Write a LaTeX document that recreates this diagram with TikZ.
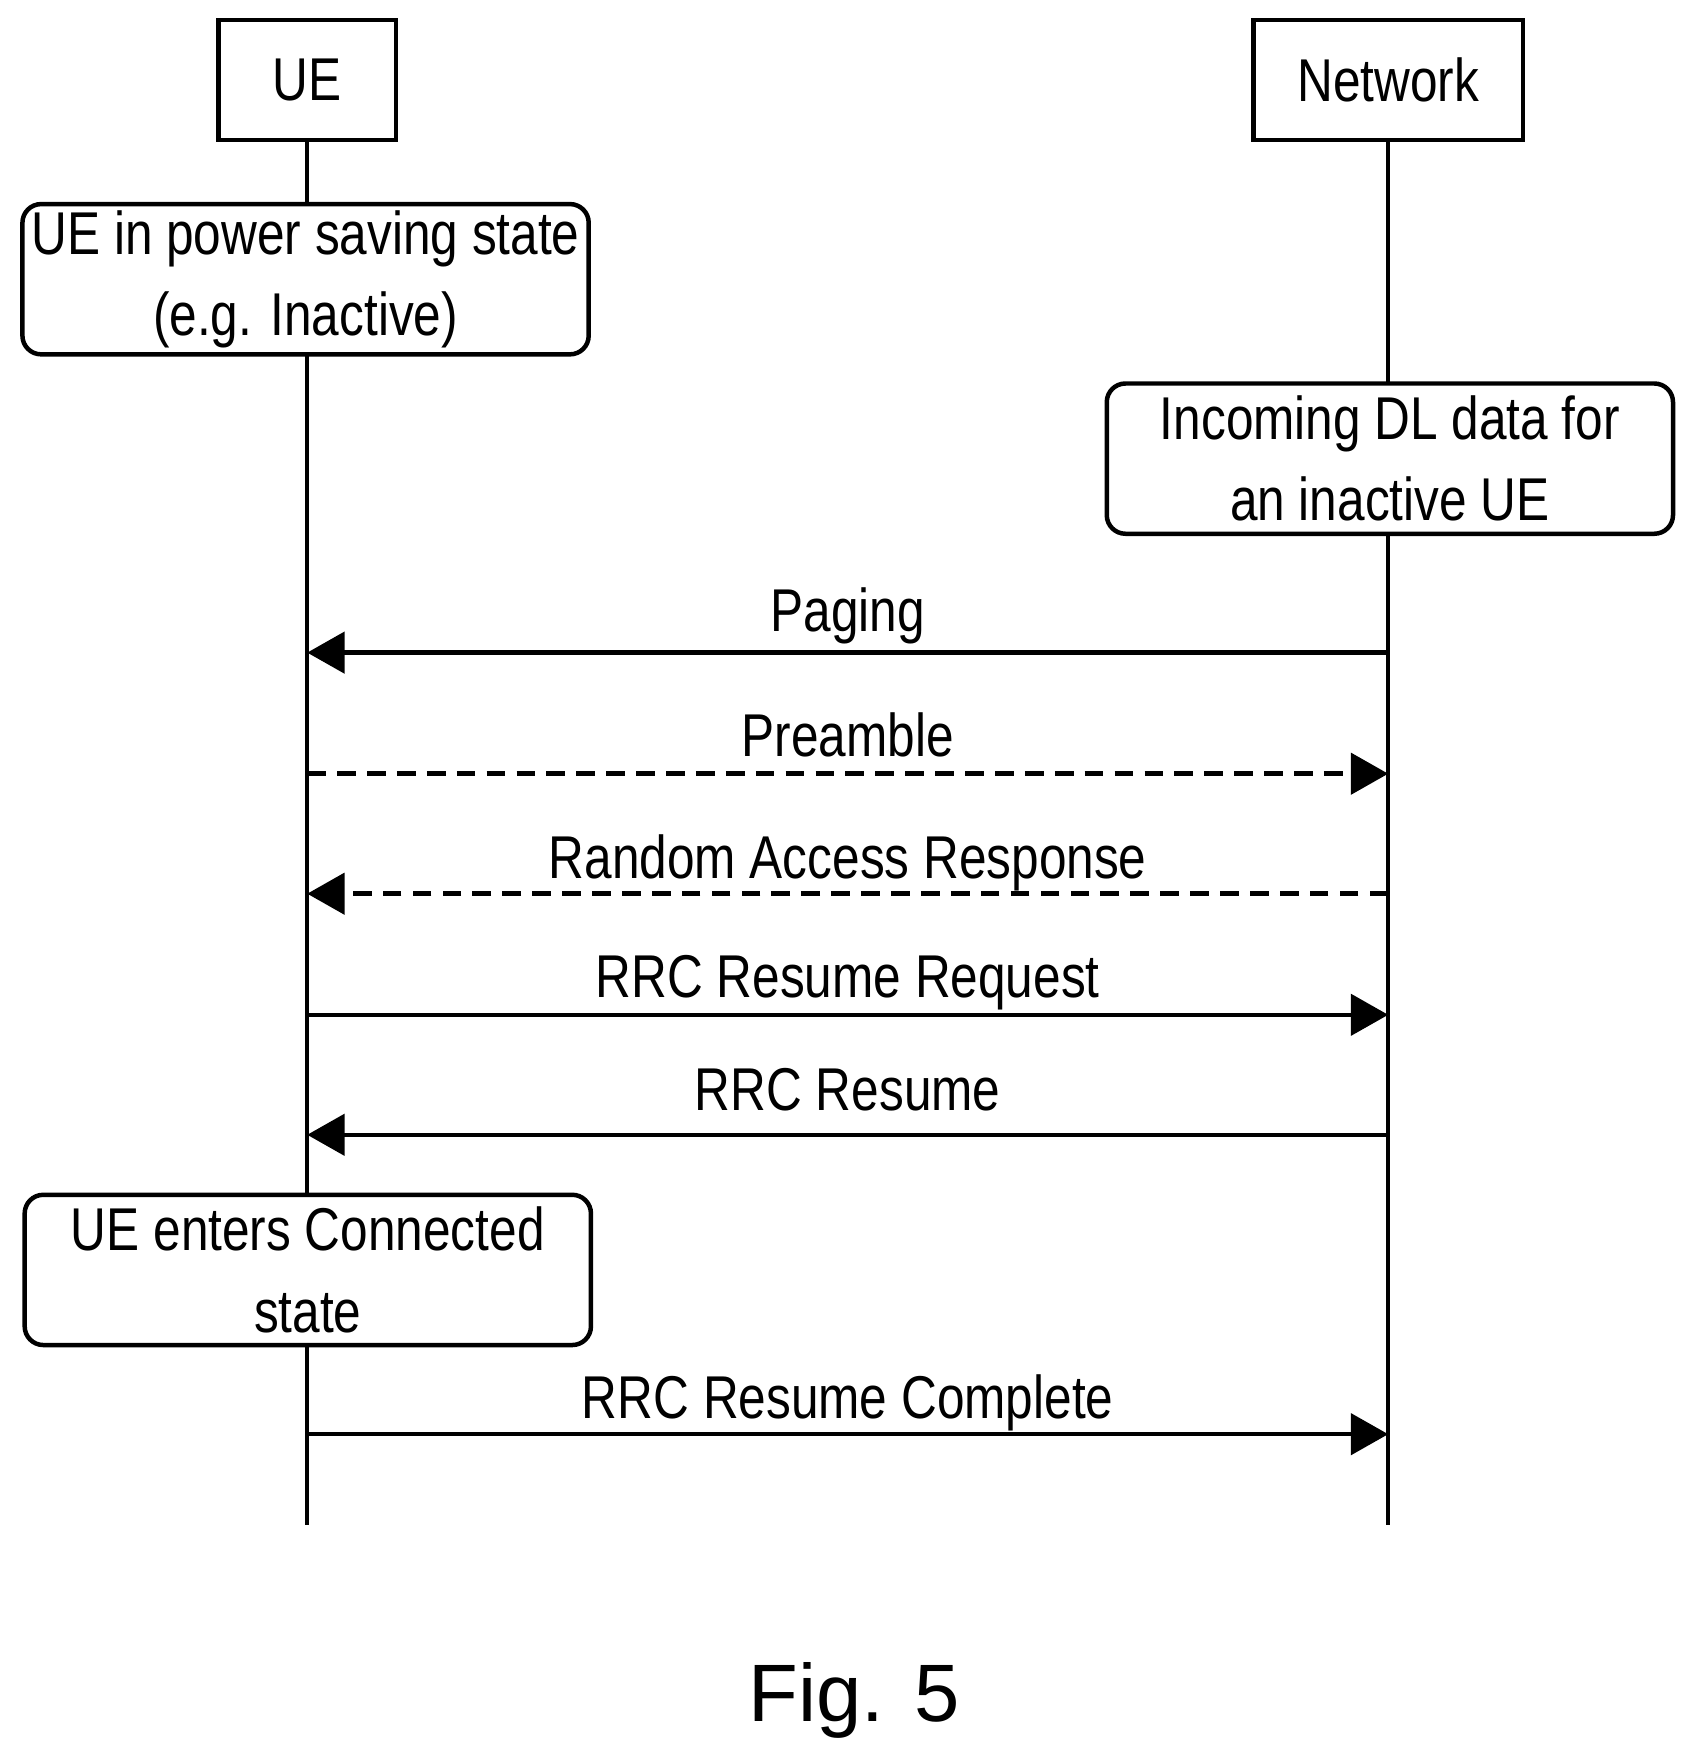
\documentclass[tikz,border=0pt]{standalone}
\usepackage{fontspec}
\setmainfont{Liberation Sans}
\newfontfamily\narrow[FakeStretch=0.82]{Liberation Sans}
\usetikzlibrary{arrows.meta}
\begin{document}
\begin{tikzpicture}[x=0.3mm,y=-0.3mm,
  ln/.style={line width=1.2mm},
  box/.style={draw,line width=1.2mm,inner sep=0pt,font=\narrow\fontsize{46}{62}\selectfont,align=center},
  msg/.style={line width=1.2mm,-{Triangle[length=10mm,width=11mm]}},
  lab/.style={font=\narrow\fontsize{46}{56}\selectfont,anchor=base}]
\useasboundingbox (0,0) rectangle (1510,1566);
\node[box,minimum width=158*0.3mm,minimum height=107*0.3mm] (ue) at (274,71.5) {UE};
\node[box,minimum width=240*0.3mm,minimum height=107*0.3mm] (nw) at (1238,71.5) {Network};
\coordinate (ueend) at (274,1360);
\coordinate (nwend) at (1238,1360);
\draw[ln] (ue.south) -- (ueend);
\draw[ln] (nw.south) -- (nwend);
\node[box,fill=white,rounded corners=5mm,minimum width=505*0.3mm,minimum height=134*0.3mm] (s1) at (272.5,249) {UE in power saving state\\(e.g. Inactive)};
\node[box,fill=white,rounded corners=5mm,minimum width=505*0.3mm,minimum height=134*0.3mm] (s2) at (1239.5,409) {Incoming DL data for\\an inactive UE};
\node[box,fill=white,rounded corners=5mm,minimum width=505*0.3mm,minimum height=134*0.3mm] (s3) at (274.5,1132.5) {UE enters Connected\\state};
\foreach \n/\y in {a/582,b/690,c/797,d/905,e/1012,f/1279}{
  \coordinate (u\n) at (274,\y); \coordinate (n\n) at (1238,\y);}
\draw[msg] (na) -- (ua);
\draw[msg,dash pattern=on 5mm off 3mm] (ub) -- (nb);
\draw[msg,dash pattern=on 5mm off 3mm] (nc) -- (uc);
\draw[msg] (ud) -- (nd);
\draw[msg] (ne) -- (ue);
\draw[msg] (uf) -- (nf);
\node[lab] (la) at (756,563) {Paging};
\node[lab] (lb) at (756,675) {Preamble};
\node[lab] (lc) at (756,783) {Random Access Response};
\node[lab] (ld) at (756,890) {RRC Resume Request};
\node[lab] (le) at (756,990) {RRC Resume};
\node[lab] (lf) at (756,1265) {RRC Resume Complete};
\node[font=\fontsize{62}{70}\selectfont,anchor=base] (fig) at (762,1535) {Fig. 5};
\end{tikzpicture}
\end{document}
